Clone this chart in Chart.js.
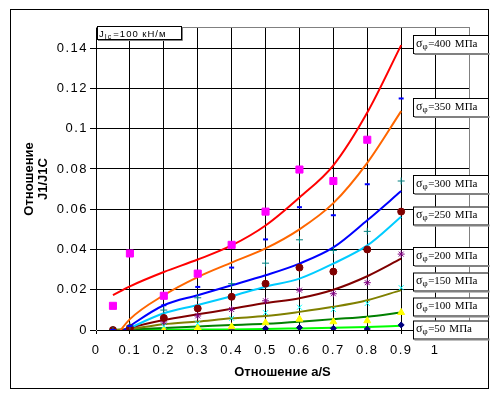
<!DOCTYPE html>
<html><head><meta charset="utf-8">
<script src="https://cdn.jsdelivr.net/npm/chart.js@4"></script>
<style>html,body{margin:0;padding:0;background:#fff;}canvas{display:block;}</style>
</head><body>
<canvas id="c" width="500" height="398"></canvas>
<script>
// ---- data ----
const aS = [0.05, 0.1, 0.2, 0.3, 0.4, 0.5, 0.6, 0.7, 0.8, 0.9];
const xTickValues = [0, 0.1, 0.2, 0.3, 0.4, 0.5, 0.6, 0.7, 0.8, 0.9, 1];
const yTickValues = [0, 0.02, 0.04, 0.06, 0.08, 0.1, 0.12, 0.14];
const stressLevels = ['400', '350', '300', '250', '200', '150', '100', '50'];

// trend curves (J1/J1C vs a/S)
const trend400 = [0.0173, 0.0217, 0.0288, 0.0350, 0.0420, 0.0519, 0.0658, 0.0818, 0.1080, 0.1415];
const trend350 = [-0.0050, 0.0054, 0.0173, 0.0263, 0.0335, 0.0405, 0.0500, 0.0630, 0.0830, 0.1087];
const trend300 = [-0.0040, 0.0020, 0.0123, 0.0173, 0.0222, 0.0272, 0.0330, 0.0410, 0.0545, 0.0690];
const trend250 = [-0.0030, 0.0010, 0.0083, 0.0124, 0.0168, 0.0215, 0.0255, 0.0330, 0.0420, 0.0563];
const trend200 = [-0.0020, 0.0010, 0.0050, 0.0078, 0.0105, 0.0134, 0.0158, 0.0200, 0.0267, 0.0354];
const trend150 = [0, 0.0005, 0.0028, 0.0042, 0.0058, 0.0069, 0.0090, 0.0115, 0.0148, 0.0198];
const trend100 = [0, 0.0003, 0.0010, 0.0017, 0.0025, 0.0031, 0.0041, 0.0054, 0.0066, 0.0087];
const trend50  = [0, 0, 0.0001, 0.0002, 0.0003, 0.0005, 0.0008, 0.0011, 0.0015, 0.0021];

// computed points
const meas400 = [0.012, 0.038, 0.017, 0.028, 0.0423, 0.0588, 0.0797, 0.074, 0.0945, null];
const meas350 = [0, 0.002, 0.0123, 0.0214, 0.031, 0.045, 0.061, 0.057, 0.0724, 0.115];
const meas300 = [0, 0.002, 0.0099, 0.016, 0.023, 0.0332, 0.0448, 0.0395, 0.049, 0.074];
const meas250 = [0, 0.001, 0.006, 0.0107, 0.0165, 0.023, 0.031, 0.029, 0.040, 0.0588];
const meas200 = [0, 0, 0.004, 0.007, 0.0102, 0.0145, 0.0198, 0.018, 0.0235, 0.0377];
const meas150 = [0, 0, 0.002, 0.0033, 0.0058, 0.0086, 0.0113, 0.0102, 0.0132, 0.021];
const meas100 = [0, 0, 0, 0.001, 0.0016, 0.0036, 0.0054, 0.0041, 0.0046, 0.0087];
const meas50  = [0, 0, 0, 0, 0.0005, 0.0008, 0.0012, 0.0008, 0.0005, 0.0025];

// ---- styles ----
const X_MIN = 0, X_MAX = 1.1, Y_MIN = 0, Y_MAX = 0.15;
const trends = [trend400, trend350, trend300, trend250, trend200, trend150, trend100, trend50];
const trendColors = ['#FF0000', '#FF6600', '#0000FF', '#00CCFF', '#800000', '#808000', '#008000', '#00FF00'];
const meas = [meas400, meas350, meas300, meas250, meas200, meas150, meas100, meas50];
const markerStyles = [
  {c: '#FF00FF', s: 'rect', r: 5, w: 1, fill: true},
  {c: '#0000FF', s: 'line', r: 2.5, w: 2, fill: false},
  {c: '#008080', s: 'cross', r: 3.5, w: 1, fill: false},
  {c: '#800000', s: 'circle', r: 3.5, w: 1, fill: true},
  {c: '#800080', s: 'star', r: 3.5, w: 1, fill: false},
  {c: '#00FFFF', s: 'crossRot', r: 3.5, w: 1, fill: false},
  {c: '#FFFF00', s: 'triangle', r: 4, w: 1, fill: true},
  {c: '#000080', s: 'rectRot', r: 3, w: 1, fill: true}
];

const toXY = arr => aS.map((x, i) => ({x: x, y: arr[i]})).filter(p => p.y !== null);

const datasets = [];
meas.forEach((arr, i) => {
  const m = markerStyles[i];
  datasets.push({
    label: 'pts ' + stressLevels[i],
    data: toXY(arr),
    showLine: false,
    pointStyle: m.s,
    pointRadius: m.r,
    pointBorderWidth: m.w,
    pointBorderColor: m.c,
    pointBackgroundColor: m.fill ? m.c : 'rgba(0,0,0,0)',
    order: 0
  });
});
trends.forEach((arr, i) => {
  datasets.push({
    label: 'trend ' + stressLevels[i],
    data: toXY(arr),
    borderColor: trendColors[i],
    borderWidth: 2,
    pointRadius: 0,
    cubicInterpolationMode: 'monotone',
    fill: false,
    order: 1
  });
});

const labelTops = [35, 98, 175, 206.5, 247, 272.5, 297.5, 320.5];

const decorPlugin = {
  id: 'decor',
  beforeDraw(chart) {
    chart.ctx.letterSpacing = '1.5px';
  },
  beforeDatasetsDraw(chart) {
    const ctx = chart.ctx;
    const a = chart.chartArea;
    const L = Math.round(a.left), R = Math.round(a.right), T = Math.round(a.top), B = Math.round(a.bottom);
    ctx.save();
    ctx.fillStyle = '#808080';
    ctx.fillRect(L, T - 1, R - L + 1, 1);
    ctx.fillRect(R, T - 1, 1, B - T + 1);
    ctx.restore();
  },
  afterDraw(chart) {
    const ctx = chart.ctx;
    const a = chart.chartArea;
    ctx.save();
    ctx.letterSpacing = '0px';
    // outer chart border
    ctx.strokeStyle = '#000';
    ctx.lineWidth = 1;
    ctx.strokeRect(10.5, 9.5, 478, 379);

    // axis titles
    ctx.fillStyle = '#000';
    ctx.font = 'bold 13px "Liberation Sans", Arial, sans-serif';
    ctx.textAlign = 'center';
    ctx.textBaseline = 'middle';
    ctx.fillText('Отношение a/S', (a.left + a.right) / 2, 372);
    ctx.save();
    ctx.translate(29, (a.top + a.bottom) / 2);
    ctx.rotate(-Math.PI / 2);
    ctx.fillText('Отношение', 0, 0);
    ctx.fillText('J1/J1C', 0, 14.3);
    ctx.restore();

    // J_Ic label
    ctx.textAlign = 'left';
    ctx.textBaseline = 'alphabetic';
    ctx.fillStyle = '#fff';
    ctx.fillRect(97, 26, 85, 14);
    ctx.strokeStyle = '#000';
    ctx.strokeRect(97.5, 26.5, 84, 13);
    ctx.strokeStyle = '#808080';
    ctx.beginPath();
    ctx.moveTo(98, 40.5); ctx.lineTo(182.5, 40.5); ctx.lineTo(182.5, 27);
    ctx.stroke();
    ctx.fillStyle = '#000';
    ctx.letterSpacing = '1px';
    ctx.font = '9.5px "Liberation Sans", Arial, sans-serif';
    ctx.fillText('J', 99, 37.3);
    const w = ctx.measureText('J').width;
    ctx.font = '7px "Liberation Sans", Arial, sans-serif';
    ctx.fillText('Ic', 99 + w, 38.5);
    ctx.font = '9.5px "Liberation Sans", Arial, sans-serif';
    ctx.fillText('=100 кН/м', 113.3, 37.3);
    ctx.letterSpacing = '0px';

    // stress labels
    labelTops.forEach((top, i) => {
      const left = 413.5, width = 75, h = 18;
      ctx.fillStyle = '#fff';
      ctx.fillRect(left, top, width, h + 2);
      ctx.strokeStyle = '#000';
      ctx.lineWidth = 1;
      ctx.strokeRect(left, top + 0.5, width, h);
      ctx.fillStyle = '#808080';
      ctx.fillRect(left + 1, top + h, width, 2);
      ctx.fillStyle = '#000';
      const base = top + 11.7;
      let x = left + 2.5;
      ctx.font = '12px "Liberation Serif", "Times New Roman", serif';
      ctx.fillText('σ', x, base);
      x += ctx.measureText('σ').width;
      ctx.font = '9px "Liberation Serif", "Times New Roman", serif';
      ctx.fillText('φ', x, base + 2);
      x += ctx.measureText('φ').width + 0.5;
      ctx.font = '11px "Liberation Serif", "Times New Roman", serif';
      ctx.fillText('=' + stressLevels[i], x, base);
      x += ctx.measureText('=' + stressLevels[i]).width + 4;
      ctx.fillText('МПа', x, base);
    });
    ctx.restore();
  }
};

new Chart(document.getElementById('c'), {
  type: 'line',
  data: {datasets: datasets},
  options: {
    responsive: false,
    animation: false,
    devicePixelRatio: 1,
    layout: {padding: {left: 10, top: 28, right: 31, bottom: 10}},
    plugins: {legend: {display: false}, tooltip: {enabled: false}},
    scales: {
      x: {
        type: 'linear',
        min: X_MIN, max: X_MAX,
        bounds: 'data',
        afterBuildTicks: s => { s.ticks = xTickValues.map(v => ({value: v})); },
        afterFit: s => { s.height = 58; },
        grid: {color: '#000', tickLength: 4},
        ticks: {
          color: '#000', autoSkip: false, maxRotation: 0, minRotation: 0, padding: 9,
          font: {size: 13, family: '"Liberation Sans", Arial, sans-serif'},
          callback: v => String(Math.round(v * 10) / 10)
        }
      },
      y: {
        type: 'linear',
        min: Y_MIN, max: Y_MAX,
        bounds: 'data',
        afterBuildTicks: s => { s.ticks = yTickValues.map(v => ({value: v})); },
        afterFit: s => { s.width = 86; },
        grid: {color: '#000', tickLength: 6},
        ticks: {
          color: '#000', padding: 2,
          font: {size: 13, family: '"Liberation Sans", Arial, sans-serif'},
          callback: v => String(Math.round(v * 100) / 100)
        }
      }
    }
  },
  plugins: [decorPlugin]
});
</script>
</body></html>
